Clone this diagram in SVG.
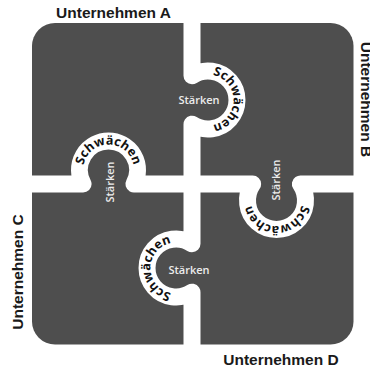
<svg xmlns="http://www.w3.org/2000/svg" width="370" height="366" viewBox="0 0 370 366">
<style>
.board{fill:#4e4e4e}
.cut{fill:none;stroke:#ffffff;stroke-width:17;stroke-linejoin:round;stroke-linecap:butt}
.label{font-family:"Liberation Sans",Arial,sans-serif;font-weight:bold;font-size:15.5px;fill:#1a1a1a}
.str{font-family:"Open Sans","Noto Sans",sans-serif;font-weight:600;font-size:11px;fill:#ececec;text-anchor:middle}
.sch{font-family:"Open Sans","Noto Sans",sans-serif;font-weight:700;font-size:12.5px;fill:#111111}
</style>
<defs>
<path id="ringA" d="M108.5,195.5 A25.5,25.5 0 1 1 108.5,144.5 A25.5,25.5 0 1 1 108.5,195.5"/>
<path id="ringB" d="M182.5,100 A25.5,25.5 0 1 1 233.5,100 A25.5,25.5 0 1 1 182.5,100"/>
<path id="ringC" d="M201.5,268 A25.5,25.5 0 1 1 150.5,268 A25.5,25.5 0 1 1 201.5,268"/>
<path id="ringD" d="M276.5,175 A25.5,25.5 0 1 1 276.5,226 A25.5,25.5 0 1 1 276.5,175"/>
</defs>
<g id="board">
<rect class="board" x="32" y="23" width="321.5" height="321.5" rx="23" ry="23"/>
</g>
<g id="connectors">
<path class="cut" d="M192,10 V75.8 A29,29 0 1 1 192,124.2 V243.8 A29,29 0 1 0 192,292.2 V360"/>
<path class="cut" d="M20,184 H83.1 A29,29 0 1 1 133.9,184 H252.65 A29,29 0 1 0 300.35,184 H365"/>
</g>
<g id="unternehmen-a">
<text class="label" x="113.5" y="18.3" text-anchor="middle">Unternehmen A</text>
<text class="str" x="199" y="104">Stärken</text>
<text class="sch"><textPath href="#ringA" startOffset="50%" text-anchor="middle">Schwächen</textPath></text>
</g>
<g id="unternehmen-b">
<text class="label" transform="translate(361,99.5) rotate(90)" text-anchor="middle">Unternehmen B</text>
<text class="str" transform="translate(276,180) rotate(-90)" y="4">Stärken</text>
<text class="sch"><textPath href="#ringB" startOffset="50%" text-anchor="middle">Schwächen</textPath></text>
</g>
<g id="unternehmen-c">
<text class="label" transform="translate(23,272) rotate(-90)" text-anchor="middle">Unternehmen C</text>
<text class="str" transform="translate(110,182) rotate(-90)" y="4">Stärken</text>
<text class="sch"><textPath href="#ringC" startOffset="50%" text-anchor="middle">Schwächen</textPath></text>
</g>
<g id="unternehmen-d">
<text class="label" x="281" y="364.5" text-anchor="middle">Unternehmen D</text>
<text class="str" x="189" y="274">Stärken</text>
<text class="sch"><textPath href="#ringD" startOffset="50%" text-anchor="middle">Schwächen</textPath></text>
</g>
</svg>
